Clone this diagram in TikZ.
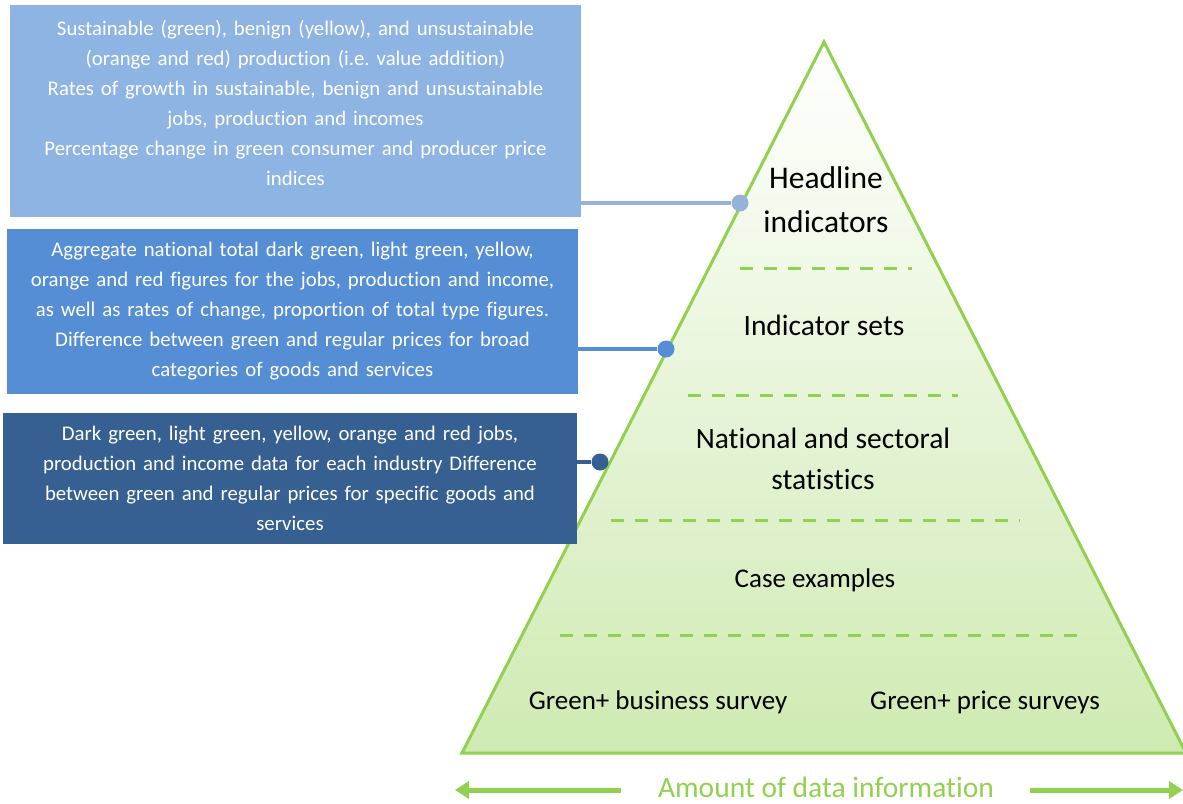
\documentclass[tikz,border=0pt]{standalone}
\usepackage{fontspec}
\setmainfont[Ligatures=NoCommon]{Carlito}
\usepackage{xcolor}
\usetikzlibrary{
    positioning,
    calc,
    arrows.meta
}
\definecolor{paleblue}{HTML}{8EB4E3}
\definecolor{midblue}{HTML}{558ED5}
\definecolor{darkblue}{HTML}{376092}
\definecolor{linkblue}{HTML}{95B3D7}
\definecolor{leafgreen}{HTML}{92D050}
\definecolor{pyrfill}{HTML}{CFEAB2}
\tikzset{
  infobox/.style = {
      rectangle,
      inner sep=0pt,
      text=white,
      align=center,
      text width=560pt,
      font=\fontsize{20.8}{30}\selectfont
  },
  level/.style = {
      align=center,
      inner sep=0pt,
      font=\fontsize{27}{41}\selectfont
  },
  link/.style = {
      line width=4.5pt
  },
  dot/.style = {
      circle,
      inner sep=0pt,
      minimum size=17pt
  },
  divider/.style = {
      leafgreen,
      line width=3pt,
      dash pattern=on 13pt off 11pt
  },
  axisarrow/.style = {
      leafgreen,
      line width=5pt,
      -{Triangle[length=14pt,width=17pt]}
  }
}

\begin{document}
\begin{tikzpicture}[x=1pt, y=-1pt]
    \useasboundingbox (0,0) rectangle (1183,803);
    % Pyramid
    \coordinate (apex) at (824,42);
    \coordinate (bl) at (462,753);
    \coordinate (br) at (1186,753);
    \draw[leafgreen, line width=3pt, line join=miter, top color=white, bottom color=pyrfill]
    (apex) -- (bl) -- (br) -- cycle;
    % Dividers
    \draw[divider] (740,268) -- (912,268);
    \draw[divider] (688,395) -- (958,395);
    \draw[divider] (611,520) -- (1020,520);
    \draw[divider] (560,635) -- (1077,635);
    % Levels
    \node[level, font=\fontsize{31.5}{44}\selectfont] (headline) at (826,200) {Headline\\indicators};
    \node[level, font=\fontsize{29.5}{41}\selectfont] (sets) at (824,325) {Indicator sets};
    \node[level, font=\fontsize{29.5}{41}\selectfont] (national) at (823,459) {National and sectoral\\statistics};
    \node[level] (cases) at (815,580) {Case examples};
    \node[level] (business) at (658,702) {Green+ business survey};
    \node[level] (prices) at (985,702) {Green+ price surveys};
    % Boxes
    \node[infobox, fill=paleblue, minimum width=571pt, minimum height=212pt] (box1) at (295.5,111)
    {Sustainable (green), benign (yellow), and unsustainable\\
     (orange and red) production (i.e.\ value addition)\\
     Rates of growth in sustainable, benign and unsustainable\\
     jobs, production and incomes\\
     Percentage change in green consumer and producer price\\
     indices\\[-14pt]\mbox{}};
    \node[infobox, fill=midblue, minimum width=571pt, minimum height=165pt] (box2) at (292.5,311.5)
    {Aggregate national total dark green, light green, yellow,\\
     orange and red figures for the jobs, production and income,\\
     as well as rates of change, proportion of total type figures.\\
     Difference between green and regular prices for broad\\
     categories of goods and services};
    \node[infobox, fill=darkblue, minimum width=574pt, minimum height=131pt] (box3) at (290,478.5)
    {Dark green, light green, yellow, orange and red jobs,\\
     production and income data for each industry Difference\\
     between green and regular prices for specific goods and\\
     services};
    % Links
    \node[dot, fill=linkblue] (dot1) at (740,203) {};
    \node[dot, fill=midblue] (dot2) at (666,349) {};
    \node[dot, fill=darkblue] (dot3) at (600,462) {};
    \draw[link, linkblue] (box1.east |- dot1) -- (dot1);
    \draw[link, midblue] (box2.east |- dot2) -- (dot2);
    \draw[link, darkblue] (box3.east |- dot3) -- (dot3);
    % Axis
    \node[level, text=leafgreen, font=\fontsize{29.5}{30}\selectfont] (amount) at (826,787) {Amount of data information};
    \coordinate (leftend) at (455,790);
    \coordinate (rightend) at (1183,790);
    \draw[axisarrow] ([xshift=-37pt]amount.west |- leftend) -- (leftend);
    \draw[axisarrow] ([xshift=36pt]amount.east |- rightend) -- (rightend);
\end{tikzpicture}
\end{document}
